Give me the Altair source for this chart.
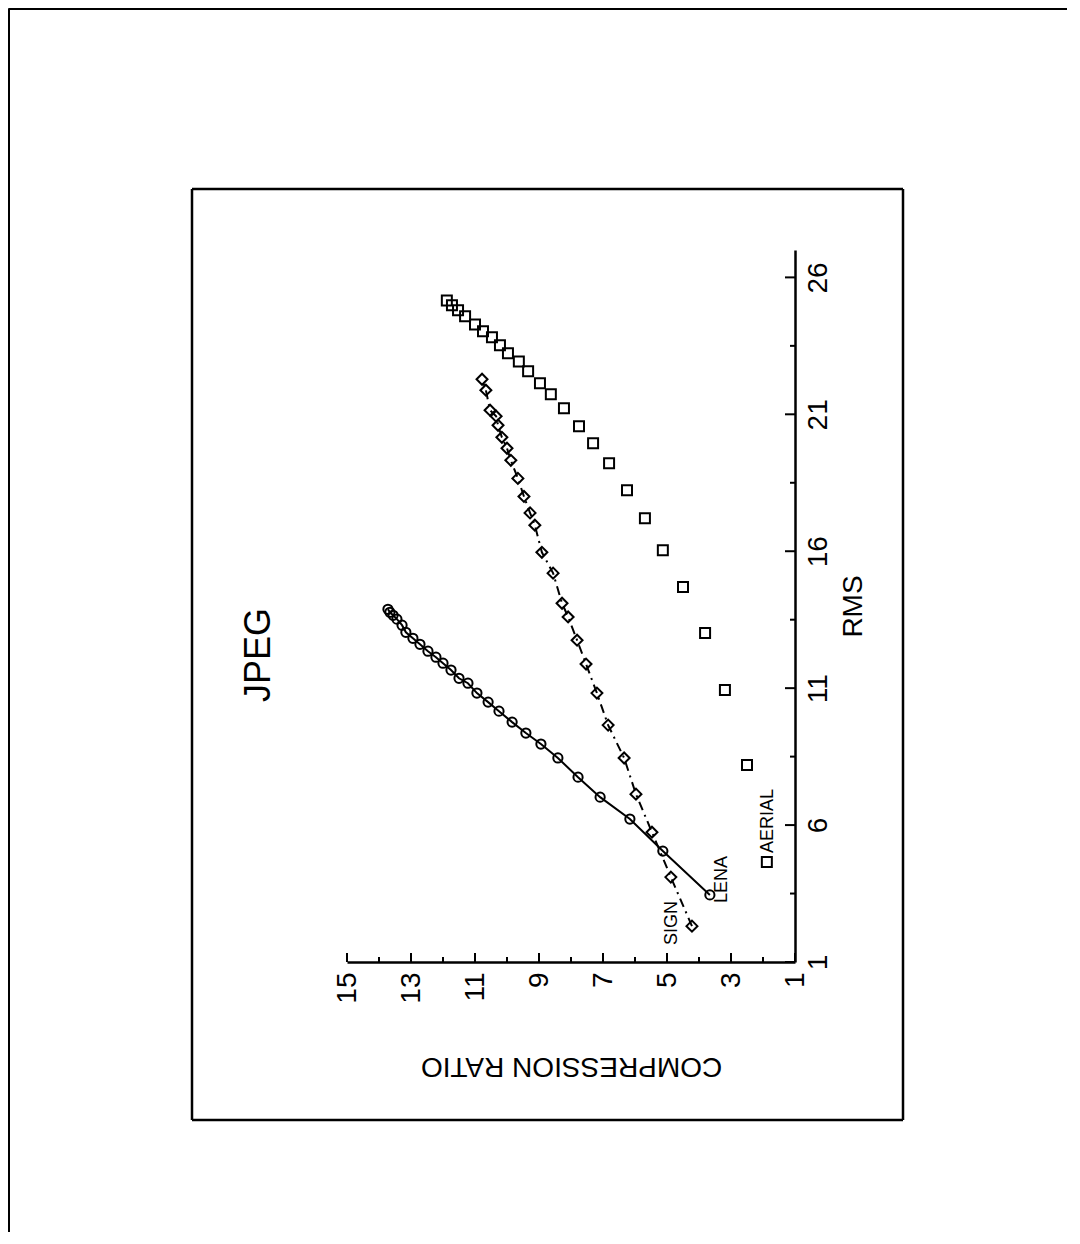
import altair as alt
import pandas as pd

# ---- data (compression ratio vs RMS) ----
lena_cr = [3.66, 5.13, 6.16, 7.09, 7.78, 8.41, 8.94, 9.41, 9.84, 10.25, 10.59, 10.94, 11.22,
           11.5, 11.75, 12.0, 12.22, 12.47, 12.72, 12.94, 13.16, 13.28, 13.44, 13.56, 13.66, 13.72]
lena_rms = [3.45, 5.05, 6.22, 7.02, 7.75, 8.45, 8.96, 9.36, 9.76, 10.16, 10.49, 10.82, 11.18,
            11.36, 11.66, 11.91, 12.13, 12.35, 12.6, 12.82, 13.04, 13.3, 13.52, 13.66, 13.77, 13.88]

sign_cr = [4.22, 4.88, 5.47, 5.97, 6.34, 6.84, 7.19, 7.53, 7.81, 8.09, 8.28, 8.56, 8.91, 9.13,
           9.28, 9.47, 9.66, 9.88, 10.0, 10.16, 10.28, 10.34, 10.53, 10.66, 10.78]
sign_rms = [2.31, 4.1, 5.74, 7.13, 8.45, 9.65, 10.82, 11.88, 12.75, 13.6, 14.1, 15.2, 15.96, 16.95,
            17.4, 18.0, 18.66, 19.32, 19.76, 20.16, 20.6, 20.93, 21.15, 21.88, 22.28]

aerial_cr = [1.88, 2.5, 3.19, 3.81, 4.5, 5.13, 5.69, 6.25, 6.81, 7.31, 7.75, 8.22, 8.63, 8.97,
             9.34, 9.63, 9.97, 10.22, 10.47, 10.75, 11.0, 11.31, 11.53, 11.72, 11.88]
aerial_rms = [4.65, 8.19, 10.93, 13.01, 14.69, 16.04, 17.2, 18.23, 19.21, 19.94, 20.56, 21.22, 21.73,
              22.13, 22.57, 22.93, 23.23, 23.52, 23.81, 24.03, 24.28, 24.58, 24.8, 24.98, 25.16]

label_text = ["SIGN", "LENA", "AERIAL"]
label_cr = [4.69, 3.13, 1.69]
label_rms = [1.62, 3.15, 4.98]

cr_major = [1, 3, 5, 7, 9, 11, 13, 15]
cr_minor = [2, 4, 6, 8, 10, 12, 14]
rms_major = [1, 6, 11, 16, 21, 26]
rms_minor = [3.5, 8.5, 13.5, 18.5, 23.5]

W, H = 448, 712
FONT = "Liberation Sans"

xs = alt.Scale(domain=[1, 15], reverse=True, nice=False, zero=False)
ys = alt.Scale(domain=[1, 27], nice=False, zero=False)

xa = alt.Axis(values=cr_major, ticks=False, grid=False, labelAngle=270,
              labelAlign="right", labelBaseline="middle", labelPadding=10,
              labelFontSize=28, labelFont=FONT, title="COMPRESSION RATIO",
              titleAngle=180, titleBaseline="alphabetic", titleFontSize=28,
              titleFont=FONT, titleFontWeight="normal", titleY=95,
              domainWidth=2.5, domainColor="black", labelColor="black",
              titleColor="black", labelFlush=False, labelOverlap=False)
ya = alt.Axis(orient="right", values=rms_major, ticks=False, grid=False,
              labelAngle=270, labelAlign="center", labelBaseline="top",
              labelPadding=9, labelFontSize=28, labelFont=FONT, title="RMS",
              titleAngle=270, titleBaseline="alphabetic", titleFontSize=28,
              titleFont=FONT, titleFontWeight="normal", titleX=66,
              domainWidth=2.5, domainColor="black", labelColor="black",
              titleColor="black", labelFlush=False, labelOverlap=False)

lena = pd.DataFrame({"cr": lena_cr, "rms": lena_rms, "i": range(len(lena_cr))})
sign = pd.DataFrame({"cr": sign_cr, "rms": sign_rms, "i": range(len(sign_cr))})
aerial = pd.DataFrame({"cr": aerial_cr, "rms": aerial_rms})
labels = pd.DataFrame({"t": label_text, "cr": label_cr, "rms": label_rms})

X = alt.X("cr:Q", scale=xs, axis=xa)
Y = alt.Y("rms:Q", scale=ys, axis=ya)

pt = dict(filled=False, color="black", strokeWidth=2, opacity=1)

aerial_pts = alt.Chart(aerial).mark_point(shape="square", size=100, **pt).encode(x=X, y=Y)
lena_line = alt.Chart(lena).mark_line(color="black", strokeWidth=2).encode(x=X, y=Y, order="i:Q")
lena_pts = alt.Chart(lena).mark_point(shape="circle", size=85, **pt).encode(x=X, y=Y)
sign_line = alt.Chart(sign).mark_line(color="black", strokeWidth=2,
                                      strokeDash=[9, 5, 2, 5]).encode(x=X, y=Y, order="i:Q")
sign_pts = alt.Chart(sign).mark_point(shape="diamond", size=120, **pt).encode(x=X, y=Y)
lab = alt.Chart(labels).mark_text(angle=270, align="left", baseline="alphabetic",
                                  fontSize=18, font=FONT, color="black").encode(
    x=X, y=Y, text="t:N")

# inward ticks
cr_maj = alt.Chart(pd.DataFrame({"cr": cr_major})).mark_rule(color="black", strokeWidth=2).encode(
    x=X, y=alt.value(H), y2=alt.value(H - 9))
cr_min = alt.Chart(pd.DataFrame({"cr": cr_minor})).mark_rule(color="black", strokeWidth=2).encode(
    x=X, y=alt.value(H), y2=alt.value(H - 5))
rms_maj = alt.Chart(pd.DataFrame({"rms": rms_major})).mark_rule(color="black", strokeWidth=2).encode(
    y=Y, x=alt.value(W), x2=alt.value(W - 10))
rms_min = alt.Chart(pd.DataFrame({"rms": rms_minor})).mark_rule(color="black", strokeWidth=2).encode(
    y=Y, x=alt.value(W), x2=alt.value(W - 5))

title = alt.Chart(pd.DataFrame({"t": ["JPEG"]})).mark_text(
    angle=270, align="center", baseline="alphabetic", fontSize=36, font=FONT,
    color="black").encode(x=alt.value(-77), y=alt.value(405), text="t:N")

one = pd.DataFrame({"a": [0]})
def rule(x1, x2, y1, y2, w):
    return alt.Chart(one).mark_rule(color="black", strokeWidth=w).encode(
        x=alt.value(x1), x2=alt.value(x2), y=alt.value(y1), y2=alt.value(y2))

PADL, PADT, PADR, PADB = 339, 242, 272, 270
frames = [
    # inner box
    rule(-155, 556, -61, -61, 2.5),
    rule(-155, 556, 870, 870, 2.5),
    rule(-155, -155, -61, 870, 2.5),
    rule(556, 556, -61, 870, 2.5),
    # outer frame (left and top)
    rule(-PADL + 0.5, W + PADR, -PADT + 0.5, -PADT + 0.5, 3),
    rule(-PADL + 0.5, -PADL + 0.5, -PADT + 0.5, H + PADB, 3),
]

chart = alt.layer(
    aerial_pts, lena_line, lena_pts, sign_line, sign_pts, lab,
    cr_maj, cr_min, rms_maj, rms_min, title, *frames
).properties(
    width=W, height=H,
    padding={"left": PADL, "top": PADT, "right": PADR, "bottom": PADB},
    autosize=alt.AutoSizeParams(type="none"),
    background="white",
).configure_view(stroke=None)

chart.save("out.html", embed_options={"renderer": "svg", "actions": False})
